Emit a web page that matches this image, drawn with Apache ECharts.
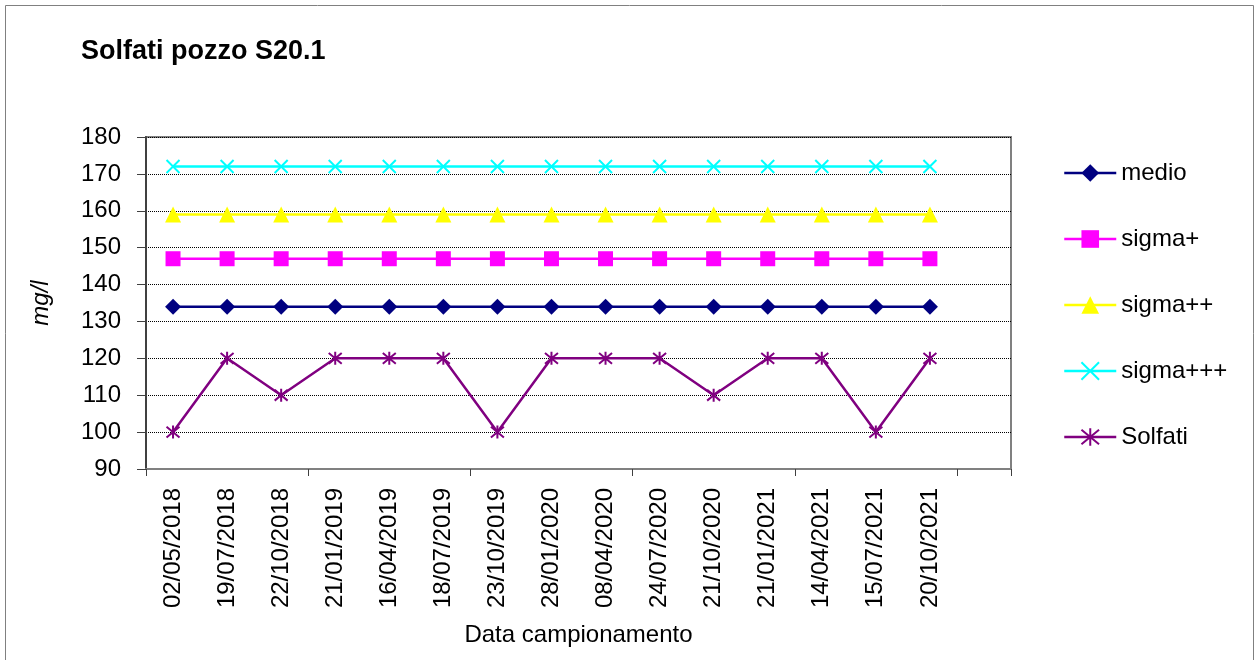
<!DOCTYPE html>
<html>
<head>
<meta charset="utf-8">
<script src="https://cdn.jsdelivr.net/npm/echarts@6/dist/echarts.min.js"></script>
<style>
  html, body { margin: 0; padding: 0; background: #fff; }
  #chart { width: 1260px; height: 660px; }
</style>
</head>
<body>
<div id="chart"></div>
<script>
// Sampling dates; the last slot is left empty so the plot runs one band past the last sample
const dates = ['02/05/2018', '19/07/2018', '22/10/2018', '21/01/2019', '16/04/2019', '18/07/2019',
  '23/10/2019', '28/01/2020', '08/04/2020', '24/07/2020', '21/10/2020', '21/01/2021',
  '14/04/2021', '15/07/2021', '20/10/2021', ''];

// Reference levels (mg/l)
const medio    = [134, 134, 134, 134, 134, 134, 134, 134, 134, 134, 134, 134, 134, 134, 134];
const sigma1   = [147, 147, 147, 147, 147, 147, 147, 147, 147, 147, 147, 147, 147, 147, 147];
const sigma2   = [159, 159, 159, 159, 159, 159, 159, 159, 159, 159, 159, 159, 159, 159, 159];
const sigma3   = [172, 172, 172, 172, 172, 172, 172, 172, 172, 172, 172, 172, 172, 172, 172];
// Measured sulphates (mg/l)
const solfati  = [100, 120, 110, 120, 120, 120, 100, 120, 120, 120, 110, 120, 120, 100, 120];

const FONT = 'Liberation Sans';
const FS = 24;
const crossPath = 'path://M0,0L10,10M10,0L0,10';
const starPath  = 'path://M0,0L10,10M10,0L0,10M5,-1L5,11';

function lineSeries(name, data, color, symbol, size, strokeOnly) {
  return {
    name: name,
    type: 'line',
    data: data,
    symbol: symbol,
    symbolSize: size,
    showAllSymbol: true,
    lineStyle: { color: color, width: 2.5 },
    itemStyle: strokeOnly
      ? { color: color, borderColor: color, borderWidth: 2 }
      : { color: color, borderWidth: 0 },
    emphasis: { disabled: true },
    animation: false
  };
}

const chart = echarts.init(document.getElementById('chart'), null, { renderer: 'canvas' });
chart.setOption({
  backgroundColor: '#fff',
  animation: false,
  title: {
    text: 'Solfati pozzo S20.1',
    left: 76,
    top: 33,
    textStyle: { fontFamily: FONT, fontWeight: 'bold', fontSize: 27, color: '#000' }
  },
  graphic: [{
    type: 'rect',
    shape: { x: 5.5, y: 5.5, width: 1248, height: 670 },
    style: { fill: 'none', stroke: '#808080', lineWidth: 1 },
    silent: true
  }],
  grid: {
    left: 146, right: 249, top: 137, bottom: 191,
    show: true, borderColor: '#808080', borderWidth: 2
  },
  legend: {
    orient: 'vertical',
    left: 1058,
    top: 156,
    itemWidth: 52,
    itemHeight: 22,
    itemGap: 42,
    lineStyle: { width: 2.5 },
    textStyle: { fontFamily: FONT, fontSize: FS, color: '#000' },
    data: ['medio', 'sigma+', 'sigma++', 'sigma+++', 'Solfati']
  },
  xAxis: {
    type: 'category',
    data: dates,
    boundaryGap: true,
    name: 'Data campionamento',
    nameLocation: 'middle',
    nameGap: 154,
    nameTextStyle: { fontFamily: FONT, fontSize: FS, color: '#000' },
    axisLine: { lineStyle: { color: '#808080', width: 2 } },
    axisTick: { show: true, interval: 2, length: 7, lineStyle: { color: '#404040', width: 1 } },
    axisLabel: {
      interval: 0, rotate: 90, margin: 19,
      fontFamily: FONT, fontSize: FS, color: '#000'
    },
    splitLine: { show: false }
  },
  yAxis: {
    type: 'value',
    min: 90, max: 180, interval: 10,
    name: 'mg/l',
    nameLocation: 'middle',
    nameGap: 93,
    nameRotate: 90,
    nameTextStyle: { fontFamily: FONT, fontSize: FS, fontStyle: 'italic', color: '#000' },
    axisLine: { show: true, lineStyle: { color: '#404040', width: 2 } },
    axisTick: { show: true, length: 9, lineStyle: { color: '#404040', width: 1 } },
    axisLabel: { margin: 25, fontFamily: FONT, fontSize: FS, color: '#000' },
    splitLine: { show: true, lineStyle: { color: '#000', type: 'dotted', width: 1 } }
  },
  series: [
    lineSeries('medio', medio, '#000080', 'diamond', 16, false),
    lineSeries('sigma+', sigma1, '#FF00FF', 'rect', 15, false),
    lineSeries('sigma++', sigma2, '#FFFF00', 'triangle', 16, false),
    lineSeries('sigma+++', sigma3, '#00FFFF', crossPath, 13, true),
    lineSeries('Solfati', solfati, '#800080', starPath, 13, true)
  ]
});
</script>
</body>
</html>
